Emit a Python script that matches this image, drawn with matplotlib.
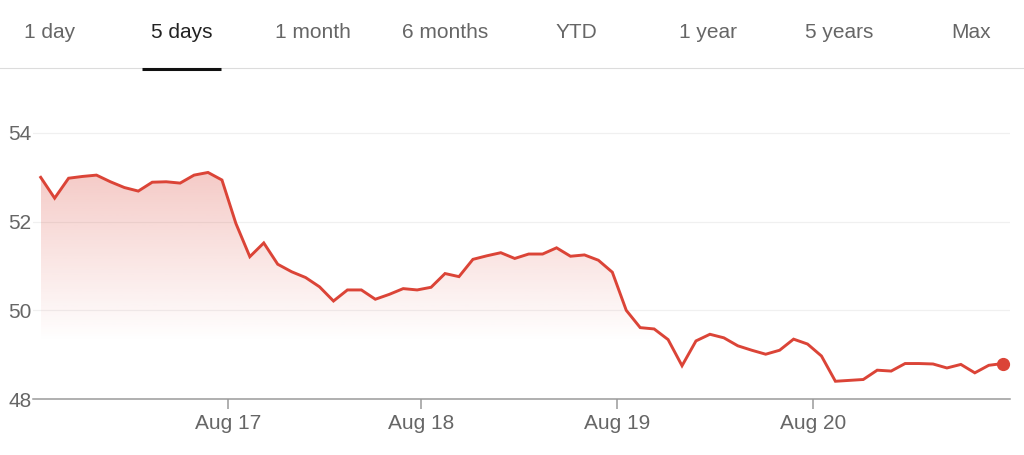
import numpy as np
import matplotlib
matplotlib.use("Agg")
import matplotlib.pyplot as plt
from matplotlib.lines import Line2D
from matplotlib.patches import Polygon

plt.rcParams['font.family'] = ['Liberation Sans', 'DejaVu Sans']

# ---- data ----
tabs = ["1 day", "5 days", "1 month", "6 months", "YTD", "1 year", "5 years", "Max"]
selected_tab = "5 days"

price = [53.00, 52.53, 52.98, 53.02, 53.05, 52.90, 52.77, 52.69, 52.89, 52.90,
         52.87, 53.05, 53.11, 52.94, 51.96, 51.21, 51.52, 51.04, 50.87, 50.74,
         50.53, 50.21, 50.46, 50.46, 50.25, 50.36, 50.49, 50.46, 50.52, 50.83,
         50.76, 51.15, 51.23, 51.30, 51.17, 51.27, 51.27, 51.41, 51.22, 51.25,
         51.13, 50.86, 50.00, 49.61, 49.58, 49.34, 48.75, 49.31, 49.46, 49.38,
         49.20, 49.10, 49.01, 49.10, 49.35, 49.24, 48.97, 48.40, 48.42, 48.44,
         48.65, 48.63, 48.80, 48.80, 48.79, 48.70, 48.78, 48.59, 48.76, 48.80]
day_labels = ["Aug 17", "Aug 18", "Aug 19", "Aug 20"]
day_pos = [13.43, 27.26, 41.31, 55.40]
y_ticks = [48, 50, 52, 54]

W, H = 1024, 455
fig = plt.figure(figsize=(W / 100, H / 100), dpi=100)
fig.patch.set_facecolor("white")

RED = "#db4437"
GRAY_TXT = "#666666"
FS = 15

# ---- tabs ----
fig.add_artist(Line2D([0, 1], [1 - 68.3 / H, 1 - 68.3 / H], color="#dcdcdc", lw=0.8, zorder=1))
for i, t in enumerate(tabs):
    cx = 50 + 131.6 * i
    sel = (t == selected_tab)
    fig.text(cx / W, 1 - 33 / H, t, ha="center", va="center", fontsize=FS,
             color="#222222" if sel else GRAY_TXT)
    if sel:
        fig.add_artist(Line2D([141.5 / W, 220.5 / W], [1 - 69.2 / H, 1 - 69.2 / H],
                              color="#111111", lw=2.2, solid_capstyle="butt", zorder=5))

# ---- chart ----
x0, x1 = 33, 1010
ybot, ytop = 399, 120
ax = fig.add_axes([x0 / W, 1 - ybot / H, (x1 - x0) / W, (ybot - ytop) / H])
idx = np.arange(len(price))
ppu = (399 - 133) / 6.0
ax.set_ylim(48, 48 + (ybot - ytop) / ppu)
step = (1002.7 - 40.7) / (len(price) - 1)
ax.set_xlim((x0 - 40.7) / step, (x1 - 40.7) / step)

for s in ["top", "left", "right"]:
    ax.spines[s].set_visible(False)
ax.spines["bottom"].set_color("#9a9a9a")
ax.spines["bottom"].set_linewidth(1.1)

for yv in y_ticks[1:]:
    ax.axhline(yv, color="#f0f0f0", lw=0.9, zorder=0)

ax.set_yticks(y_ticks)
ax.set_yticklabels([str(v) for v in y_ticks])
ax.tick_params(axis="y", length=0, pad=1, labelsize=FS, labelcolor=GRAY_TXT)
ax.set_xticks(day_pos)
ax.set_xticklabels(day_labels)
ax.tick_params(axis="x", length=7.5, width=1.1, color="#9a9a9a", pad=3.5,
               labelsize=FS, labelcolor=GRAY_TXT)

# gradient fill
grad_top = max(price)
grad_bot = 49.3
ylo, yhi = ax.get_ylim()
n = 256
yy = np.linspace(yhi, ylo, n)
alpha = np.clip((yy - grad_bot) / (grad_top - grad_bot), 0, 1) * 0.28
rgba = np.zeros((n, 1, 4))
rgba[..., 0] = 219 / 255
rgba[..., 1] = 68 / 255
rgba[..., 2] = 55 / 255
rgba[..., 3] = alpha[:, None]
im = ax.imshow(rgba, aspect="auto", extent=[idx[0], idx[-1], ylo, yhi],
               origin="upper", zorder=1, interpolation="bilinear")
verts = [(idx[0], ylo)] + list(zip(idx, price)) + [(idx[-1], ylo)]
poly = Polygon(verts, closed=True, facecolor="none", edgecolor="none")
ax.add_patch(poly)
im.set_clip_path(poly)

ax.plot(idx, price, color=RED, lw=2.1, zorder=3, solid_joinstyle="miter")
ax.plot(idx[-1], price[-1], "o", color=RED, ms=8.5, zorder=4, clip_on=False)

fig.savefig("out.png", dpi=100, facecolor="white")
